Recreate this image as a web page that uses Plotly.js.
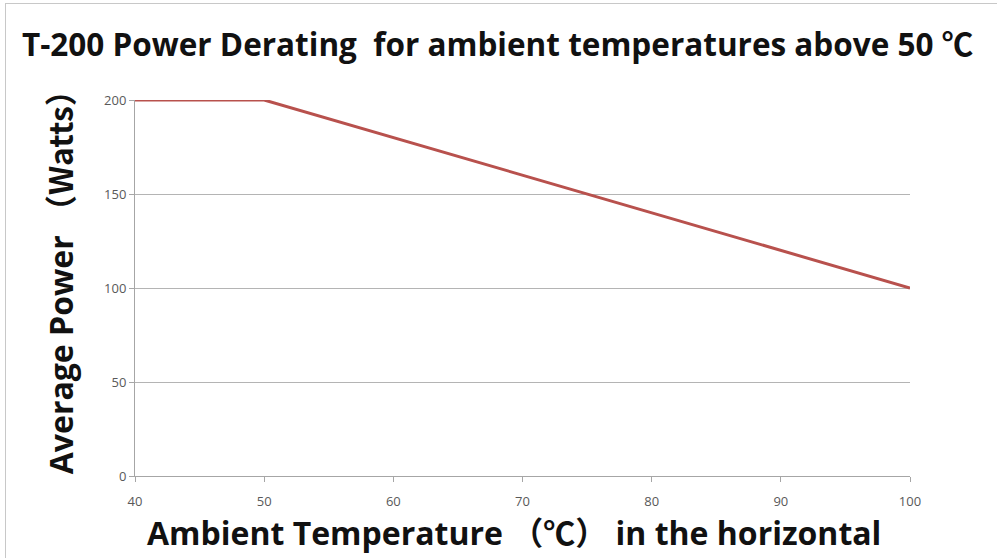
<!DOCTYPE html>
<html><head><meta charset="utf-8">
<script src="https://cdn.plot.ly/plotly-3.0.1.min.js"></script>
<style>
html,body{margin:0;padding:0;background:#fff;}
#frame{position:absolute;left:5px;top:3px;width:1000px;height:560px;border-left:1px solid #c8c8c8;border-top:1px solid #c8c8c8;}
#chart{position:absolute;left:0;top:0;width:997px;height:558px;}
</style></head>
<body>
<div id="frame"></div>
<div id="chart"></div>
<script>
const temperature = [40, 50, 100];
const power = [200, 200, 100];
const xTicks = [40, 50, 60, 70, 80, 90, 100];
const yTicks = [0, 50, 100, 150, 200];

const cjk = s => '<span style="font-family:\'Noto Sans CJK SC\'">' + s + '</span>';
const trace = {
  x: temperature, y: power, type: 'scatter', mode: 'lines',
  line: {color: '#b8514d', width: 3}, hoverinfo: 'none'
};
const bold = '"Open Sans", "DejaVu Sans", sans-serif';
const layout = {
  width: 997, height: 558,
  paper_bgcolor: 'rgba(0,0,0,0)', plot_bgcolor: 'rgba(0,0,0,0)',
  margin: {l: 135, r: 87, t: 100, b: 82},
  showlegend: false,
  title: {text: '<b>T-200 Power Derating  for ambient temperatures above 50 ' + cjk('℃') + '</b>',
    x: 0.022, xanchor: 'left', y: 0.92, yanchor: 'middle',
    font: {family: bold, size: 31.5, color: '#111'}},
  xaxis: {range: [40, 100], tickvals: xTicks, ticktext: xTicks.map(String),
    showgrid: false, zeroline: false, showline: true, linecolor: '#a6a6a6', linewidth: 1,
    ticks: 'outside', ticklen: 5, tickcolor: '#a6a6a6', ticklabelstandoff: 8,
    tickfont: {family: '"Open Sans", sans-serif', size: 13, color: '#595959'}},
  yaxis: {range: [0, 200], tickvals: yTicks, ticktext: yTicks.map(String),
    showgrid: true, gridcolor: '#b4b4b4', gridwidth: 1, zeroline: false,
    showline: true, linecolor: '#a6a6a6', linewidth: 1,
    ticks: 'outside', ticklen: 5, tickcolor: '#a6a6a6',
    tickfont: {family: '"Open Sans", sans-serif', size: 13, color: '#595959'}},
  annotations: [
    {text: '<b>Ambient Temperature ' + cjk('（℃）') + ' in the horizontal</b>', xref: 'paper', yref: 'paper',
     x: 0.489, y: -0.145, xanchor: 'center', yanchor: 'middle', showarrow: false,
     font: {family: bold, size: 32, color: '#111'}},
    {text: '<b>Average Power ' + cjk('（Watts）') + '</b>', xref: 'paper', yref: 'paper',
     x: -0.097, y: 0.536, xanchor: 'center', yanchor: 'middle', textangle: -90, showarrow: false,
     font: {family: bold, size: 32, color: '#111'}}
  ]
};
Plotly.newPlot('chart', [trace], layout, {displayModeBar: false, staticPlot: true});
</script>
</body></html>
